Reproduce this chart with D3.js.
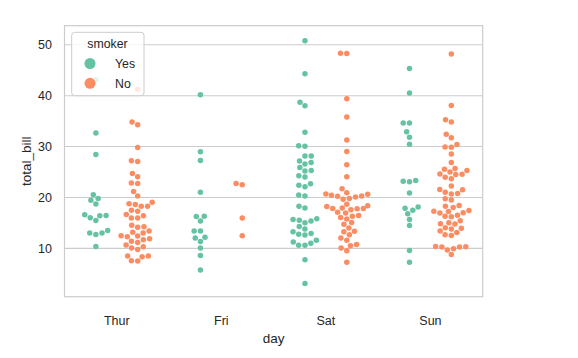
<!DOCTYPE html>
<html><head><meta charset="utf-8">
<script src="https://cdn.jsdelivr.net/npm/d3@7"></script>
<style>
body{margin:0;background:#fff}
svg{display:block}
text{font-family:"Liberation Sans", Arial, sans-serif; fill:#262626}
</style>
</head><body>
<svg id="chart" width="578" height="358"></svg>
<script>
// ---------------- data ----------------
const days = ["Thur", "Fri", "Sat", "Sun"];
const smokerLevels = ["Yes", "No"];
const yTicks = [10, 20, 30, 40, 50];
const xLabel = "day";
const yLabel = "total_bill";
const legendTitle = "smoker";

const thurYes = [19.44, 32.68, 16.00, 19.81, 28.44, 15.48, 16.58, 10.34, 43.11, 13.00, 13.51, 18.71, 12.74, 13.00, 16.40, 20.53, 16.47];
const thurNo = [27.20, 22.76, 17.29, 16.66, 10.07, 15.98, 34.83, 13.03, 18.28, 24.71, 21.16, 10.65, 12.43, 24.08, 11.69, 13.42, 14.26, 15.95, 12.48, 29.80, 8.52, 14.52, 11.38, 22.82, 19.08, 20.27, 11.17, 12.26, 18.26, 8.51, 10.33, 14.15, 13.16, 17.47, 34.30, 41.19, 27.05, 16.43, 8.35, 18.64, 11.87, 9.78, 7.51, 7.56, 18.78];
const friYes = [28.97, 5.75, 16.32, 40.17, 27.28, 12.03, 21.01, 11.35, 15.38, 12.16, 13.42, 8.58, 13.42, 16.27, 10.09];
const friNo = [22.49, 22.75, 12.46, 15.98];
const satYes = [38.01, 11.24, 20.29, 13.81, 11.02, 18.29, 3.07, 15.01, 26.86, 25.28, 17.92, 44.30, 22.42, 15.36, 20.49, 25.21, 14.31, 10.59, 10.63, 50.81, 15.81, 26.59, 38.73, 24.27, 12.76, 30.06, 25.89, 13.27, 28.17, 12.90, 28.15, 11.59, 7.74, 30.14, 22.12, 24.01, 15.69, 15.53, 12.60, 32.83, 27.18, 22.67];
const satNo = [20.65, 17.92, 20.29, 15.77, 39.42, 19.82, 17.81, 13.37, 12.69, 21.70, 19.65, 9.55, 18.35, 15.06, 20.69, 17.78, 24.06, 16.31, 16.93, 18.69, 31.27, 16.04, 26.41, 48.27, 17.59, 20.08, 16.45, 20.23, 12.02, 17.07, 14.73, 10.51, 20.92, 18.24, 14.00, 7.25, 48.33, 20.45, 13.28, 11.61, 10.77, 10.07, 35.83, 29.03, 17.82];
const sunYes = [17.51, 7.25, 31.85, 16.82, 32.90, 17.89, 14.48, 9.60, 34.63, 34.65, 23.33, 45.35, 23.17, 40.55, 20.90, 30.46, 18.15, 23.10, 15.69];
const sunNo = [16.99, 10.34, 21.01, 23.68, 24.59, 25.29, 8.77, 26.88, 15.04, 14.78, 10.27, 35.26, 15.42, 18.43, 14.83, 21.58, 10.33, 16.29, 16.97, 17.46, 13.94, 9.68, 30.40, 18.29, 22.23, 32.40, 28.55, 18.04, 12.54, 10.29, 34.81, 9.94, 25.56, 19.49, 38.07, 23.95, 25.71, 17.31, 29.93, 14.07, 13.13, 17.26, 24.55, 19.77, 29.85, 48.17, 25.00, 13.39, 16.49, 21.50, 12.66, 16.21, 13.81, 24.52, 20.76, 31.71, 20.69];

const groups = [
  {day: "Thur", smoker: "Yes", values: thurYes},
  {day: "Thur", smoker: "No", values: thurNo},
  {day: "Fri", smoker: "Yes", values: friYes},
  {day: "Fri", smoker: "No", values: friNo},
  {day: "Sat", smoker: "Yes", values: satYes},
  {day: "Sat", smoker: "No", values: satNo},
  {day: "Sun", smoker: "Yes", values: sunYes},
  {day: "Sun", smoker: "No", values: sunNo}
];

// ---------------- layout ----------------
const W = 578, H = 358;
const plot = {left: 64.5, right: 482.7, top: 25.7, bottom: 296.7};
const colors = {Yes: "#66c2a5", No: "#fc8d62"};
const R_LAYOUT = 3.0, R_DRAW = 2.75;

const svg = d3.select("#chart");
const x = d3.scaleBand().domain(days).range([plot.left, plot.right]).padding(0);
const y = d3.scaleLinear().domain([0.5, 53.75]).range([plot.bottom, plot.top]);
const hueOffset = d3.scalePoint().domain(smokerLevels).range([-0.2, 0.2]); // in category units

// gridlines
svg.append("g").selectAll("line").data(yTicks).join("line")
  .attr("x1", plot.left).attr("x2", plot.right)
  .attr("y1", d => y(d)).attr("y2", d => y(d))
  .attr("stroke", "#cccccc").attr("stroke-width", 1.1);

// frame
svg.append("rect")
  .attr("x", plot.left).attr("y", plot.top)
  .attr("width", plot.right - plot.left).attr("height", plot.bottom - plot.top)
  .attr("fill", "none").attr("stroke", "#cccccc").attr("stroke-width", 1.2);

// beeswarm (seaborn-style)
function beeswarm(values, center, r, halfWidth) {
  const pts = values.map(v => ({v, u: -y(v)}));
  const order = pts.map((p, i) => i).sort((a, b) => pts[a].u - pts[b].u);
  const sorted = order.map(i => ({x: center, u: pts[i].u, v: pts[i].v}));
  const swarm = [sorted[0]];
  const d2 = 4 * r * r;
  for (let k = 1; k < sorted.length; k++) {
    const p = sorted[k];
    const neighbors = [];
    for (let j = swarm.length - 1; j >= 0; j--) {
      if (p.u - swarm[j].u < 2 * r) neighbors.push(swarm[j]); else break;
    }
    const cands = [{x: center, u: p.u, v: p.v}];
    let leftFirst = true;
    for (const nb of neighbors) {
      const dy = p.u - nb.u;
      const dx = Math.sqrt(Math.max(d2 - dy * dy, 0)) * 1.05;
      const cl = {x: nb.x - dx, u: p.u, v: p.v}, cr = {x: nb.x + dx, u: p.u, v: p.v};
      if (leftFirst) cands.push(cl, cr); else cands.push(cr, cl);
      leftFirst = !leftFirst;
    }
    const idx = cands.map((c, i) => i).sort((a, b) =>
      (Math.abs(cands[a].x - center) - Math.abs(cands[b].x - center)) || (a - b));
    let chosen = cands[idx[0]];
    if (neighbors.length) {
      for (const i of idx) {
        const c = cands[i];
        if (neighbors.every(nb => (nb.x - c.x) ** 2 + (nb.u - c.u) ** 2 >= d2 - 1e-9)) { chosen = c; break; }
      }
    }
    swarm.push(chosen);
  }
  return swarm.map(s => ({v: s.v, x: Math.max(center - halfWidth, Math.min(center + halfWidth, s.x))}));
}

const unit = x.bandwidth();
const gPts = svg.append("g");
groups.forEach(g => {
  const center = x(g.day) + unit / 2 + hueOffset(g.smoker) * unit;
  const placed = beeswarm(g.values, center, R_LAYOUT, 0.2 * unit);
  gPts.append("g").selectAll("circle").data(placed).join("circle")
    .attr("cx", d => d.x).attr("cy", d => y(d.v)).attr("r", R_DRAW)
    .attr("fill", colors[g.smoker]);
});

// y tick labels
svg.append("g").selectAll("text").data(yTicks).join("text")
  .attr("x", plot.left - 12.5).attr("y", d => y(d)).attr("dy", "0.36em")
  .attr("text-anchor", "end").attr("font-size", 12.5).text(d => d);

// x tick labels
svg.append("g").selectAll("text").data(days).join("text")
  .attr("x", d => x(d) + unit / 2).attr("y", 325)
  .attr("text-anchor", "middle").attr("font-size", 12.5).text(d => d);

// axis labels
svg.append("text").attr("x", (plot.left + plot.right) / 2).attr("y", 343)
  .attr("text-anchor", "middle").attr("font-size", 13.5).text(xLabel);
svg.append("text").attr("transform", `translate(31,${(plot.top + plot.bottom) / 2}) rotate(-90)`)
  .attr("text-anchor", "middle").attr("font-size", 13.5).text(yLabel);

// legend
const lg = svg.append("g");
lg.append("rect").attr("x", 71.7).attr("y", 32.3).attr("width", 72.3).attr("height", 63.4)
  .attr("rx", 3).attr("fill", "#ffffff").attr("fill-opacity", 0.8)
  .attr("stroke", "#cccccc").attr("stroke-width", 1);
lg.append("text").attr("x", 107.5).attr("y", 48.3).attr("text-anchor", "middle")
  .attr("font-size", 12.3).text(legendTitle);
const items = lg.selectAll("g.item").data(smokerLevels).join("g").attr("class", "item")
  .attr("transform", (d, i) => `translate(0,${63.5 + i * 19.8})`);
items.append("circle").attr("cx", 90).attr("cy", 0).attr("r", 5.5).attr("fill", d => colors[d]);
items.append("text").attr("x", 115).attr("y", 0).attr("dy", "0.36em").attr("font-size", 12.3).text(d => d);
</script>
</body></html>
